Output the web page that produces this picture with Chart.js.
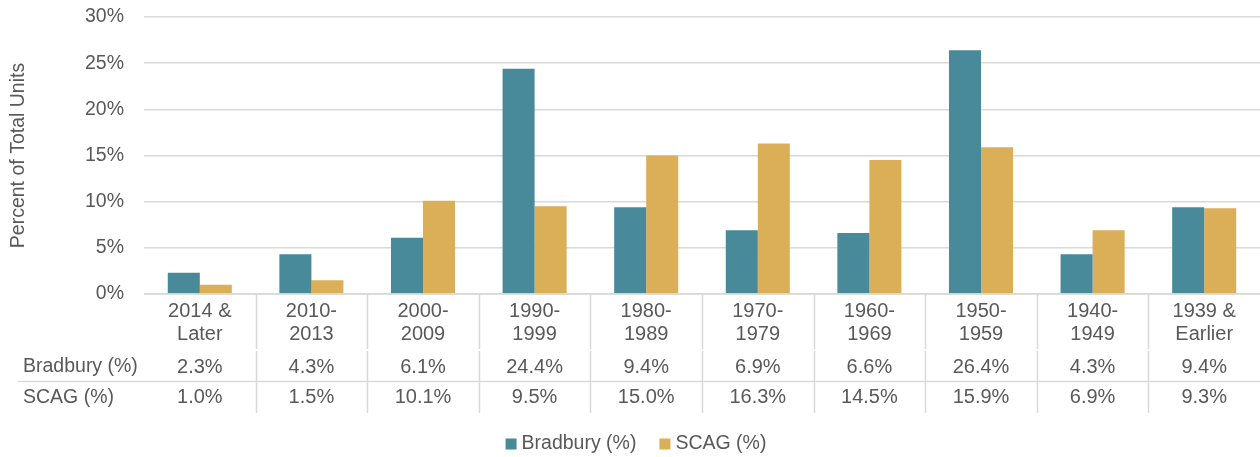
<!DOCTYPE html>
<html><head><meta charset="utf-8">
<script src="https://cdn.jsdelivr.net/npm/chart.js@4"></script>
<style>html,body{margin:0;padding:0;background:#fff}#w{width:1260px;height:457px}</style>
</head><body><div id="w"><canvas id="c"></canvas></div>
<script>
const categories = [["2014 &","Later"],["2010-","2013"],["2000-","2009"],["1990-","1999"],["1980-","1989"],["1970-","1979"],["1960-","1969"],["1950-","1959"],["1940-","1949"],["1939 &","Earlier"]];
const seriesNames = ["Bradbury (%)","SCAG (%)"];
const bradbury = [2.3,4.3,6.1,24.4,9.4,6.9,6.6,26.4,4.3,9.4];
const scag = [1.0,1.5,10.1,9.5,15.0,16.3,14.5,15.9,6.9,9.3];
const yTicks = [0,5,10,15,20,25,30];
const colors = ["#488A99","#DBAE58"];
const FONT = "'Liberation Sans', Arial, sans-serif";
const TXT = "#595959";
const GRID = "#D9D9D9";

const tablePlugin = {
  id:'table',
  afterDraw(chart){
    const ctx = chart.ctx, x = chart.scales.x, ca = chart.chartArea;
    const n = categories.length, cw = (ca.right-ca.left)/n;
    ctx.save();
    ctx.strokeStyle = GRID; ctx.lineWidth = 1.5;
    ctx.beginPath(); ctx.moveTo(ca.left, ca.bottom); ctx.lineTo(ca.right, ca.bottom); ctx.stroke();
    ctx.beginPath(); ctx.moveTo(18, 381.5); ctx.lineTo(ca.right, 381.5); ctx.stroke();
    for(let i=1;i<n;i++){
      const bx = Math.round(ca.left + i*cw)+0.5;
      ctx.beginPath(); ctx.moveTo(bx, ca.bottom); ctx.lineTo(bx, 349); ctx.stroke();
      ctx.beginPath(); ctx.moveTo(bx, 351); ctx.lineTo(bx, 413); ctx.stroke();
    }
    ctx.fillStyle = TXT; ctx.font = "20px "+FONT; ctx.textBaseline = "middle";
    ctx.textAlign = "center";
    for(let i=0;i<n;i++){
      const cx = x.getPixelForValue(i);
      ctx.fillText(categories[i][0], cx, 311);
      ctx.fillText(categories[i][1], cx, 334);
      ctx.fillText(bradbury[i].toFixed(1)+"%", cx, 367);
      ctx.fillText(scag[i].toFixed(1)+"%", cx, 397.5);
    }
    ctx.font = "19.5px "+FONT;
    ctx.textAlign = "left";
    ctx.fillText(seriesNames[0], 23, 367);
    ctx.fillText(seriesNames[1], 23, 397.5);
    const w1 = ctx.measureText(seriesNames[0]).width, w2 = ctx.measureText(seriesNames[1]).width;
    const total = 11+5+w1+23+11+5+w2;
    let lx = 636 - total/2;
    const ly = 444;
    ctx.fillStyle = colors[0]; ctx.fillRect(lx, ly-5.5, 11, 11);
    ctx.fillStyle = TXT; ctx.fillText(seriesNames[0], lx+16, ly);
    lx += 16 + w1 + 23;
    ctx.fillStyle = colors[1]; ctx.fillRect(lx, ly-5.5, 11, 11);
    ctx.fillStyle = TXT; ctx.fillText(seriesNames[1], lx+16, ly);
    ctx.restore();
  }
};

new Chart(document.getElementById('c'), {
  type:'bar',
  data:{
    labels: categories.map(c=>c.join(' ')),
    datasets:[
      {label:seriesNames[0], data:bradbury, backgroundColor:colors[0], barPercentage:1, categoryPercentage:0.574},
      {label:seriesNames[1], data:scag, backgroundColor:colors[1], barPercentage:1, categoryPercentage:0.574}
    ]
  },
  options:{
    responsive:true, maintainAspectRatio:false, animation:false,
    layout:{autoPadding:false, padding:{top:17,bottom:163,left:0,right:0}},
    plugins:{legend:{display:false}, tooltip:{enabled:false}},
    scales:{
      x:{display:false, grid:{display:false}},
      y:{
        min:0, max:30,
        afterFit(s){ s.width = 144; s.paddingTop = 0; s.paddingBottom = 0; },
        afterBuildTicks(s){ s.ticks = yTicks.map(v=>({value:v})); },
        border:{display:false},
        grid:{color:GRID, lineWidth:1.5, drawTicks:false},
        ticks:{padding:20, color:TXT, font:{family:FONT, size:19.5}, callback:v=>v+'%'},
        title:{display:true, text:'Percent of Total Units', color:TXT, font:{family:FONT, size:19.5}, padding:{top:7,bottom:0}}
      }
    }
  },
  plugins:[tablePlugin]
});
</script></body></html>
